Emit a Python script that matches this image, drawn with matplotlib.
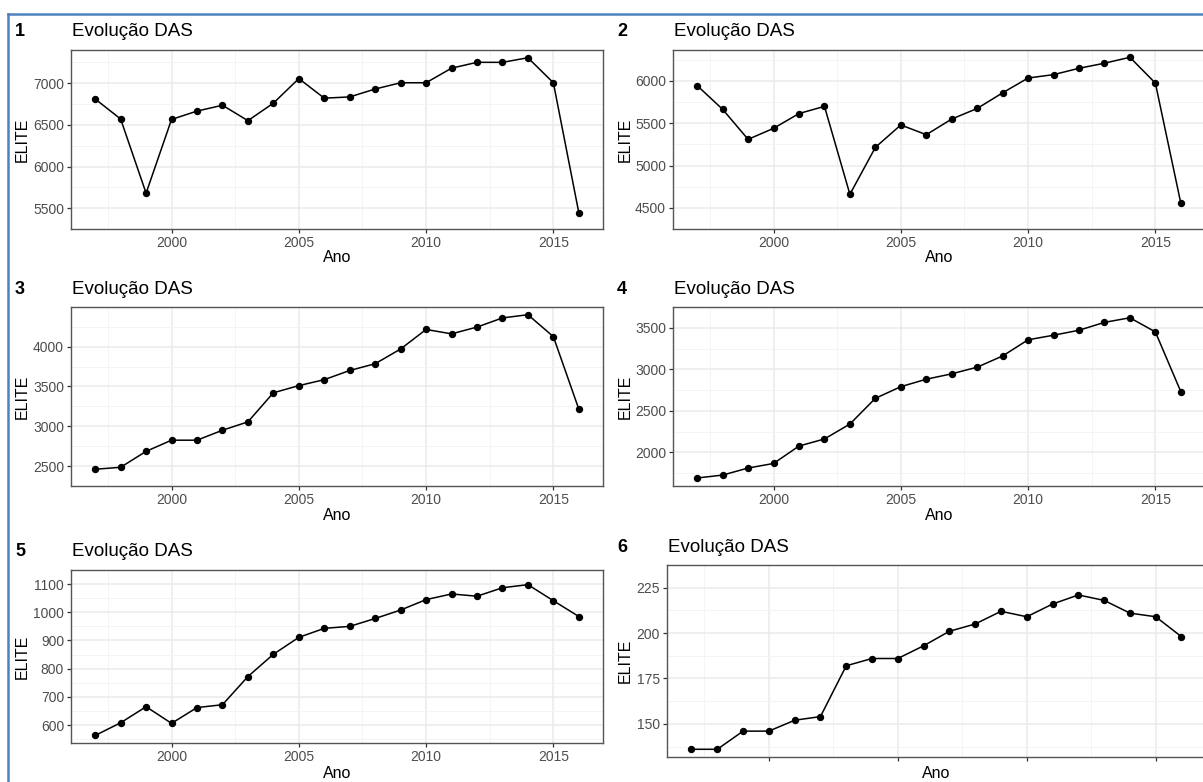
import matplotlib
matplotlib.use("Agg")
import matplotlib.pyplot as plt
from matplotlib.lines import Line2D

plt.rcParams['font.family'] = ['Liberation Sans', 'DejaVu Sans']

# Dados: quantidade de cargos DAS (ELITE) por ano, níveis 1 a 6
anos = list(range(1997, 2017))

das1 = [6810, 6570, 5680, 6565, 6665, 6735, 6550, 6760, 7055, 6820,
        6835, 6930, 7005, 7005, 7180, 7250, 7250, 7305, 7005, 5445]
das2 = [5945, 5665, 5310, 5440, 5615, 5700, 4660, 5215, 5480, 5365,
        5550, 5675, 5860, 6035, 6075, 6150, 6210, 6280, 5975, 4555]
das3 = [2460, 2485, 2685, 2825, 2825, 2950, 3055, 3420, 3510, 3585,
        3700, 3785, 3970, 4215, 4160, 4245, 4360, 4400, 4125, 3215]
das4 = [1690, 1725, 1810, 1865, 2075, 2160, 2340, 2650, 2790, 2880,
        2945, 3025, 3160, 3355, 3410, 3470, 3565, 3620, 3450, 2730]
das5 = [563, 608, 665, 606, 662, 672, 772, 851, 911, 943,
        950, 978, 1008, 1045, 1065, 1057, 1087, 1098, 1041, 985]
das6 = [136, 136, 146, 146, 152, 154, 182, 186, 186, 193,
        201, 205, 212, 209, 216, 221, 218, 211, 209, 198]

series = [das1, das2, das3, das4, das5, das6]
paineis = ['1', '2', '3', '4', '5', '6']
yticks = [[5500, 6000, 6500, 7000],
          [4500, 5000, 5500, 6000],
          [2500, 3000, 3500, 4000],
          [2000, 2500, 3000, 3500],
          [600, 700, 800, 900, 1000, 1100],
          [150, 175, 200, 225]]
xticks = [2000, 2005, 2010, 2015]

W, H = 1203, 782
fig = plt.figure(figsize=(W / 100, H / 100), dpi=100)

# caixas dos eixos em pixels: (esquerda, topo, direita, base)
caixas = [(71, 50, 603, 229), (673, 50, 1205, 229),
          (71, 307, 603, 486), (673, 307, 1205, 486),
          (71, 570, 603, 743), (667, 565, 1206, 757)]
# posição vertical (px) do rótulo "Ano" em cada linha
ano_y = [258, 258, 516, 516, 773, 773]

borda = '#555555'
grade = '#EBEBEB'

for i, (vals, (l, t, r, b)) in enumerate(zip(series, caixas)):
    ax = fig.add_axes([l / W, 1 - b / H, (r - l) / W, (b - t) / H])
    ax.plot(anos, vals, color='black', lw=1.1, marker='o', ms=4.3, zorder=3)

    # limites no estilo ggplot (expansão de 5%)
    faixa = max(vals) - min(vals)
    ax.set_ylim(min(vals) - 0.05 * faixa, max(vals) + 0.05 * faixa)
    faixa_x = anos[-1] - anos[0]
    ax.set_xlim(anos[0] - 0.05 * faixa_x, anos[-1] + 0.05 * faixa_x)

    yt = yticks[i]
    ax.set_yticks(yt)
    passo = yt[1] - yt[0]
    ax.set_yticks([v - passo / 2 for v in yt] + [yt[-1] + passo / 2], minor=True)
    ax.set_xticks(xticks)
    ax.set_xticks([1997.5, 2002.5, 2007.5, 2012.5], minor=True)

    ax.grid(which='major', color=grade, lw=1.1, zorder=0)
    ax.grid(which='minor', color='#F3F3F3', lw=0.6, zorder=0)
    ax.set_axisbelow(True)

    for s in ax.spines.values():
        s.set_color(borda)
        s.set_linewidth(1.0)
    ax.tick_params(which='major', length=3, width=0.9, color='#333333',
                   labelsize=10, labelcolor='#4D4D4D', pad=2)
    ax.tick_params(which='minor', length=0)

    if i == 5:
        ax.set_xticklabels([])

    ax.set_xlabel('Ano', fontsize=11.5, va='center')
    ax.xaxis.set_label_coords(0.5, -(ano_y[i] - b) / (b - t))
    ax.set_ylabel('ELITE', fontsize=11.5, va='center')
    ylab_x = 22 if l < 300 else 625
    ax.yaxis.set_label_coords((ylab_x - l) / (r - l), 0.5)

    col_x = 15 if l < 300 else 617
    fig.text(col_x / W, 1 - (t - 18) / H, paineis[i], fontsize=13,
             fontweight='bold', va='center', ha='left')
    fig.text((l + 1) / W, 1 - (t - 18) / H, 'Evolução DAS', fontsize=13.5,
             va='center', ha='left')

# moldura azul (captura de tela)
fig.add_artist(Line2D([8 / W, 1], [1 - 14 / H, 1 - 14 / H], color='#4F81BD', lw=1.8))
fig.add_artist(Line2D([8 / W, 8 / W], [0, 1 - 14 / H], color='#4F81BD', lw=1.8))

plt.savefig('out.png', dpi=100)
